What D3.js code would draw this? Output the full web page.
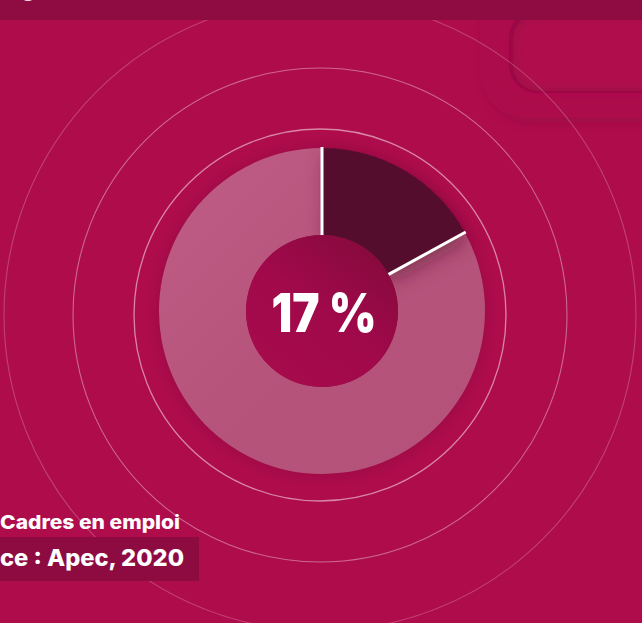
<!DOCTYPE html>
<html>
<head>
<meta charset="utf-8">
<script src="https://cdn.jsdelivr.net/npm/d3@7"></script>
<style>
  html, body { margin: 0; padding: 0; background: #AF0C4C; }
  svg { display: block; }
</style>
</head>
<body>
<svg id="chart" width="642" height="623"></svg>
<script>
// Share of managers (cadres en emploi) — Apec, 2020
const categories = ["Cadres en emploi", "Autres"];
const values = [17, 83];
const labelText = "Cadres en emploi";
const sourceText = "ce : Apec, 2020";
const titleFragment = "g";

const W = 642, H = 623;
const cx = 322, cy = 311;
const rOuter = 163, rInner = 76;
const ringCenter = [320, 315];
const ringRadii = [186, 247, 316];
const ringOpacity = [0.5, 0.38, 0.22];

const svg = d3.select("#chart");
const defs = svg.append("defs");

// filters & gradients
const blur = defs.append("filter").attr("id", "blur").attr("x", "-20%").attr("y", "-20%").attr("width", "140%").attr("height", "140%");
blur.append("feGaussianBlur").attr("stdDeviation", 6);

const soft = defs.append("filter").attr("id", "soft").attr("x", "-50%").attr("y", "-50%").attr("width", "200%").attr("height", "200%");
soft.append("feGaussianBlur").attr("stdDeviation", 5);

const sliceShadow = defs.append("filter").attr("id", "sliceShadow").attr("x", "-30%").attr("y", "-30%").attr("width", "160%").attr("height", "160%");
sliceShadow.append("feDropShadow").attr("dx", 3).attr("dy", 8).attr("stdDeviation", 9)
  .attr("flood-color", "#5a0a30").attr("flood-opacity", 0.5);

const lightGrad = defs.append("linearGradient").attr("id", "lightGrad")
  .attr("x1", "0%").attr("y1", "0%").attr("x2", "100%").attr("y2", "100%");
lightGrad.append("stop").attr("offset", "0%").attr("stop-color", "#C05D86");
lightGrad.append("stop").attr("offset", "55%").attr("stop-color", "#B5537A");
lightGrad.append("stop").attr("offset", "100%").attr("stop-color", "#B4527A");

const holeGrad = defs.append("linearGradient").attr("id", "holeGrad")
  .attr("x1", "85%").attr("y1", "10%").attr("x2", "20%").attr("y2", "90%");
holeGrad.append("stop").attr("offset", "0%").attr("stop-color", "#870A3E");
holeGrad.append("stop").attr("offset", "50%").attr("stop-color", "#A0094A");
holeGrad.append("stop").attr("offset", "100%").attr("stop-color", "#A60B4C");

const haloGrad = defs.append("radialGradient").attr("id", "haloGrad")
  .attr("cx", "50%").attr("cy", "50%").attr("r", "50%");
haloGrad.append("stop").attr("offset", "0%").attr("stop-color", "#8E0941");
haloGrad.append("stop").attr("offset", "86%").attr("stop-color", "#9A0A45");
haloGrad.append("stop").attr("offset", "100%").attr("stop-color", "#AF0C4C").attr("stop-opacity", 0);

// background
svg.append("rect").attr("width", W).attr("height", H).attr("fill", "#AF0C4C");

// decorative rounded panel, top right
const deco = svg.append("g");
deco.append("rect").attr("x", 484).attr("y", -60).attr("width", 220).attr("height", 182).attr("rx", 46)
  .attr("fill", "#8E0A41").attr("opacity", 0.55).attr("filter", "url(#soft)");
deco.append("rect").attr("x", 480).attr("y", -60).attr("width", 220).attr("height", 178).attr("rx", 46)
  .attr("fill", "#AD0C4C");
deco.append("rect").attr("x", 509).attr("y", 10).attr("width", 200).attr("height", 83).attr("rx", 28)
  .attr("fill", "#930A43");
deco.append("rect").attr("x", 513).attr("y", 14).attr("width", 196).attr("height", 77).attr("rx", 25)
  .attr("fill", "#B00C4D").attr("filter", "url(#blur)");

// concentric rings
svg.append("g").selectAll("circle").data(ringRadii).join("circle")
  .attr("cx", ringCenter[0]).attr("cy", ringCenter[1]).attr("r", d => d)
  .attr("fill", "none").attr("stroke", "#ffffff")
  .attr("stroke-width", (d, i) => i === 0 ? 1.3 : 1.1)
  .attr("stroke-opacity", (d, i) => ringOpacity[i]);

// dark halo behind the donut
svg.append("circle").attr("cx", cx).attr("cy", cy + 1).attr("r", 182)
  .attr("fill", "url(#haloGrad)");

// donut
const pie = d3.pie().sort(null).value(d => d)(values);
const arc = d3.arc().innerRadius(rInner).outerRadius(rOuter);
const gDonut = svg.append("g").attr("transform", `translate(${cx},${cy})`);

gDonut.append("path").datum(pie[1]).attr("d", arc).attr("fill", "url(#lightGrad)");
gDonut.append("path").datum(pie[0]).attr("d", arc).attr("fill", "#540A2E")
  .attr("filter", "url(#sliceShadow)");

// slice separators
const bounds = pie.map(p => p.startAngle);
gDonut.selectAll("line.sep").data(bounds).join("line").attr("class", "sep")
  .attr("x1", a => Math.sin(a) * (rInner - 2)).attr("y1", a => -Math.cos(a) * (rInner - 2))
  .attr("x2", a => Math.sin(a) * (rOuter + 1)).attr("y2", a => -Math.cos(a) * (rOuter + 1))
  .attr("stroke", "#ffffff").attr("stroke-width", 3);

// centre hole
gDonut.append("circle").attr("r", rInner).attr("fill", "url(#holeGrad)");

// centre value
gDonut.append("text")
  .attr("x", 2).attr("y", 21)
  .attr("text-anchor", "middle")
  .attr("font-family", "Inter, 'Open Sans', sans-serif")
  .attr("font-weight", 900)
  .attr("font-size", 53)
  .attr("fill", "#ffffff")
  .attr("textLength", 105).attr("lengthAdjust", "spacingAndGlyphs")
  .text(`${values[0]} %`);

// top band with title fragment
svg.append("rect").attr("x", 0).attr("y", 0).attr("width", W).attr("height", 20).attr("fill", "#8E0C42");
svg.append("text").attr("x", 20).attr("y", -5)
  .attr("font-family", "Inter, 'Open Sans', sans-serif").attr("font-weight", 700)
  .attr("font-size", 26).attr("fill", "#ffffff").text(titleFragment);

// legend label and source
svg.append("text").attr("x", 0).attr("y", 529)
  .attr("font-family", "Inter, 'Open Sans', sans-serif").attr("font-weight", 800)
  .attr("font-size", 19).attr("fill", "#ffffff")
  .attr("textLength", 180).attr("lengthAdjust", "spacingAndGlyphs")
  .text(labelText);

svg.append("rect").attr("x", 0).attr("y", 537).attr("width", 199).attr("height", 44).attr("fill", "#8E0B42");
svg.append("text").attr("x", 0).attr("y", 566)
  .attr("font-family", "Inter, 'Open Sans', sans-serif").attr("font-weight", 800)
  .attr("font-size", 23).attr("fill", "#ffffff")
  .attr("textLength", 184).attr("lengthAdjust", "spacingAndGlyphs")
  .text(sourceText);
</script>
</body>
</html>
